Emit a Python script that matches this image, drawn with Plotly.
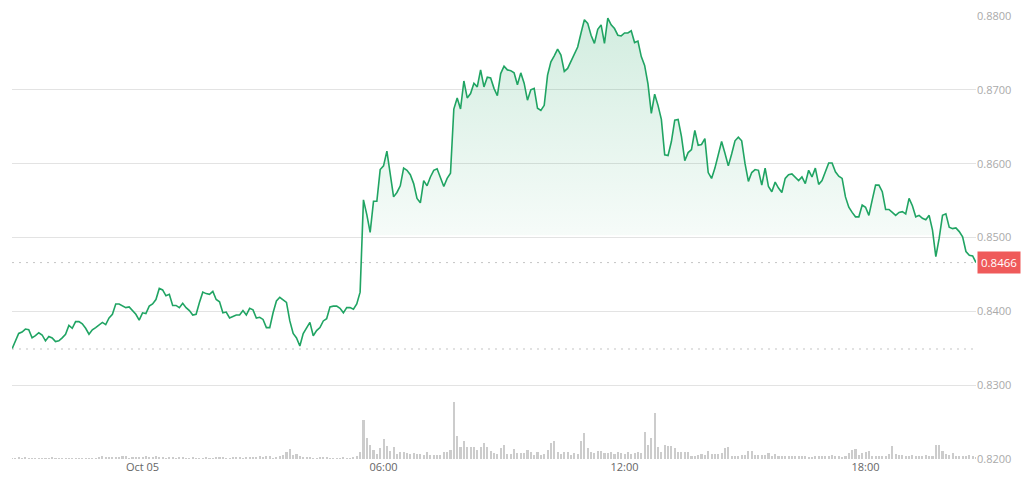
import pandas as pd
import plotly.graph_objects as go

# ---- data (5-minute samples) ----
start_time = "2024-10-04 20:45"
prices = [
    0.8349, 0.8360, 0.8370, 0.8372, 0.8376, 0.8375, 0.8364, 0.8367, 0.8371, 0.8368,
    0.8360, 0.8366, 0.8364, 0.8359, 0.8360, 0.8364, 0.8369, 0.8381, 0.8377, 0.8386,
    0.8386, 0.8383, 0.8377, 0.8369, 0.8375, 0.8378, 0.8381, 0.8385, 0.8382, 0.8391,
    0.8396, 0.8410, 0.8410, 0.8407, 0.8405, 0.8406, 0.8401, 0.8396, 0.8388, 0.8398,
    0.8397, 0.8407, 0.8410, 0.8416, 0.8431, 0.8429, 0.8421, 0.8423, 0.8408, 0.8408,
    0.8405, 0.8411, 0.8405, 0.8401, 0.8395, 0.8396, 0.8412, 0.8426, 0.8424, 0.8423,
    0.8427, 0.8416, 0.8413, 0.8398, 0.8399, 0.8391, 0.8393, 0.8395, 0.8395, 0.8401,
    0.8395, 0.8404, 0.8402, 0.8391, 0.8392, 0.8389, 0.8378, 0.8378, 0.8398, 0.8414,
    0.8419, 0.8416, 0.8412, 0.8387, 0.8370, 0.8364, 0.8353, 0.8370, 0.8378, 0.8385,
    0.8367, 0.8374, 0.8378, 0.8387, 0.8390, 0.8406, 0.8407, 0.8407, 0.8404, 0.8398,
    0.8405, 0.8405, 0.8403, 0.8410, 0.8426, 0.8551, 0.8531, 0.8507, 0.8549, 0.8549,
    0.8592, 0.8597, 0.8617, 0.8587, 0.8555, 0.8561, 0.8570, 0.8594, 0.8591, 0.8585,
    0.8573, 0.8553, 0.8547, 0.8577, 0.8570, 0.8582, 0.8591, 0.8593, 0.8582, 0.8569,
    0.8580, 0.8587, 0.8674, 0.8689, 0.8674, 0.8712, 0.8689, 0.8695, 0.8709, 0.8704,
    0.8727, 0.8704, 0.8717, 0.8716, 0.8702, 0.8692, 0.8722, 0.8732, 0.8727, 0.8726,
    0.8723, 0.8707, 0.8723, 0.8709, 0.8686, 0.8700, 0.8702, 0.8675, 0.8672, 0.8679,
    0.8720, 0.8738, 0.8746, 0.8755, 0.8747, 0.8725, 0.8729, 0.8738, 0.8747, 0.8758,
    0.8777, 0.8795, 0.8790, 0.8774, 0.8763, 0.8782, 0.8788, 0.8763, 0.8797, 0.8788,
    0.8783, 0.8774, 0.8773, 0.8777, 0.8777, 0.8780, 0.8764, 0.8766, 0.8745, 0.8733,
    0.8708, 0.8668, 0.8694, 0.8679, 0.8660, 0.8612, 0.8611, 0.8630, 0.8659, 0.8660,
    0.8637, 0.8604, 0.8615, 0.8619, 0.8645, 0.8625, 0.8626, 0.8634, 0.8588, 0.8580,
    0.8594, 0.8612, 0.8630, 0.8614, 0.8597, 0.8613, 0.8631, 0.8636, 0.8631, 0.8600,
    0.8576, 0.8588, 0.8592, 0.8591, 0.8571, 0.8594, 0.8569, 0.8562, 0.8575, 0.8567,
    0.8561, 0.8580, 0.8585, 0.8586, 0.8582, 0.8577, 0.8582, 0.8573, 0.8591, 0.8582,
    0.8594, 0.8572, 0.8577, 0.8589, 0.8601, 0.8601, 0.8589, 0.8583, 0.8580, 0.8555,
    0.8541, 0.8534, 0.8528, 0.8528, 0.8544, 0.8541, 0.8530, 0.8551, 0.8571, 0.8571,
    0.8562, 0.8538, 0.8538, 0.8534, 0.8530, 0.8534, 0.8535, 0.8532, 0.8553, 0.8543,
    0.8528, 0.8530, 0.8526, 0.8524, 0.8530, 0.8510, 0.8474, 0.8499, 0.8530, 0.8532,
    0.8514, 0.8512, 0.8513, 0.8508, 0.8501, 0.8481, 0.8476, 0.8475, 0.8466,
]
volumes = [
    1, 1, 2, 1, 2, 1, 1, 1, 1, 1,
    1, 1, 2, 1, 1, 1, 1, 1, 1, 1,
    1, 1, 1, 1, 1, 1, 2, 3, 2, 2,
    2, 2, 2, 3, 3, 1, 2, 2, 2, 2,
    3, 2, 2, 3, 2, 2, 1, 2, 2, 1,
    2, 2, 1, 1, 2, 1, 1, 1, 2, 1,
    1, 2, 2, 2, 1, 1, 2, 2, 2, 1,
    2, 2, 2, 2, 3, 2, 3, 3, 1, 2,
    3, 4, 7, 10, 4, 5, 3, 2, 2, 2,
    1, 1, 2, 2, 2, 1, 1, 1, 1, 2,
    1, 1, 2, 3, 7, 39, 21, 14, 9, 5,
    11, 20, 13, 8, 12, 5, 7, 7, 6, 5,
    6, 5, 5, 4, 7, 4, 4, 4, 4, 7,
    7, 9, 57, 23, 12, 18, 12, 12, 12, 9,
    12, 16, 12, 8, 6, 5, 11, 14, 5, 5,
    10, 6, 6, 6, 9, 7, 4, 7, 4, 5,
    9, 16, 18, 7, 5, 7, 7, 4, 6, 5,
    18, 26, 11, 7, 6, 8, 8, 6, 6, 7,
    5, 7, 6, 5, 7, 5, 6, 7, 6, 27,
    14, 21, 46, 12, 7, 14, 13, 13, 11, 7,
    7, 7, 7, 3, 3, 4, 5, 4, 8, 5,
    5, 5, 6, 11, 12, 3, 3, 3, 4, 4,
    8, 8, 4, 4, 4, 4, 6, 3, 5, 3,
    3, 3, 3, 3, 3, 3, 3, 3, 2, 2,
    3, 3, 3, 3, 3, 4, 3, 3, 2, 3,
    6, 9, 10, 4, 6, 7, 8, 3, 3, 3,
    3, 3, 5, 13, 5, 4, 4, 3, 3, 4,
    3, 3, 3, 4, 3, 3, 14, 14, 8, 5,
    4, 6, 3, 3, 3, 3, 4, 3, 2,
]
y_ticks = [0.82, 0.83, 0.84, 0.85, 0.86, 0.87, 0.88]
y_ticktext = ["0.8200", "0.8300", "0.8400", "0.8500", "0.8600", "0.8700", "0.8800"]
x_tickvals = ["2024-10-05 00:00", "2024-10-05 06:00", "2024-10-05 12:00", "2024-10-05 18:00"]
x_ticktext = ["Oct 05", "06:00", "12:00", "18:00"]
fill_base = 0.8503

times = pd.date_range(start_time, periods=len(prices), freq="5min")
first_price = prices[0]
last_price = prices[-1]

LINE = "rgb(32,164,99)"
GRID = "#e3e3e3"
FONT = "Open Sans, Noto Sans, sans-serif"

fig = go.Figure()

# volume bars (secondary axis)
fig.add_trace(go.Bar(
    x=times, y=volumes, yaxis="y2",
    marker=dict(color="#cccccc", line=dict(width=0)),
    width=0.62 * 5 * 60 * 1000, hoverinfo="skip", showlegend=False,
))

# gradient area above baseline
fig.add_trace(go.Scatter(
    x=times, y=[fill_base] * len(prices), mode="lines",
    line=dict(width=0), hoverinfo="skip", showlegend=False,
))
fig.add_trace(go.Scatter(
    x=times, y=[max(p, fill_base) for p in prices], mode="lines",
    line=dict(width=0), fill="tonexty",
    fillgradient=dict(
        type="vertical",
        colorscale=[[0, "rgba(32,164,99,0.04)"], [1, "rgba(32,164,99,0.20)"]],
        start=fill_base, stop=max(prices),
    ),
    hoverinfo="skip", showlegend=False,
))

# price line
fig.add_trace(go.Scatter(
    x=times, y=prices, mode="lines",
    line=dict(color=LINE, width=1.6),
    showlegend=False,
))

fig.update_layout(
    width=1024, height=479,
    margin=dict(l=12, r=48, t=16, b=20, autoexpand=False),
    paper_bgcolor="white", plot_bgcolor="white",
    font=dict(family=FONT, size=11, color="#999999"),
    xaxis=dict(
        range=[times[0], times[-1]],
        tickvals=x_tickvals, ticktext=x_ticktext,
        showgrid=False, zeroline=False, showline=False,
        tickfont=dict(color="#666666", size=11),
        ticks="", automargin=False,
    ),
    yaxis=dict(
        side="right", range=[y_ticks[0], y_ticks[-1]],
        tickvals=y_ticks, ticktext=y_ticktext,
        showgrid=True, gridcolor=GRID, gridwidth=1,
        zeroline=False, showline=False, ticks="",
        tickfont=dict(color="#aaaaaa", size=11),
        automargin=False,
    ),
    yaxis2=dict(
        overlaying="y", range=[0, max(volumes) * 7.8],
        visible=False, showgrid=False, automargin=False,
    ),
    bargap=0,
    shapes=[
        dict(type="line", xref="paper", x0=0, x1=1, yref="y", y0=first_price, y1=first_price,
             line=dict(color="#c4c4c4", width=1, dash="2px,5px")),
        dict(type="line", xref="paper", x0=0, x1=1, yref="y", y0=last_price, y1=last_price,
             line=dict(color="#c4c4c4", width=1, dash="2px,5px")),
    ],
    annotations=[
        dict(xref="paper", x=1, xanchor="left", xshift=1, yref="y", y=last_price,
             text=f"{last_price:.4f}", showarrow=False,
             font=dict(color="white", size=11.5, family=FONT),
             bgcolor="#ef5a5a", borderpad=3),
    ],
)

fig.write_html(
    "out.html",
    config={"displayModeBar": False},
    post_script="document.body.style.margin='0';document.body.style.overflow='hidden';",
)
